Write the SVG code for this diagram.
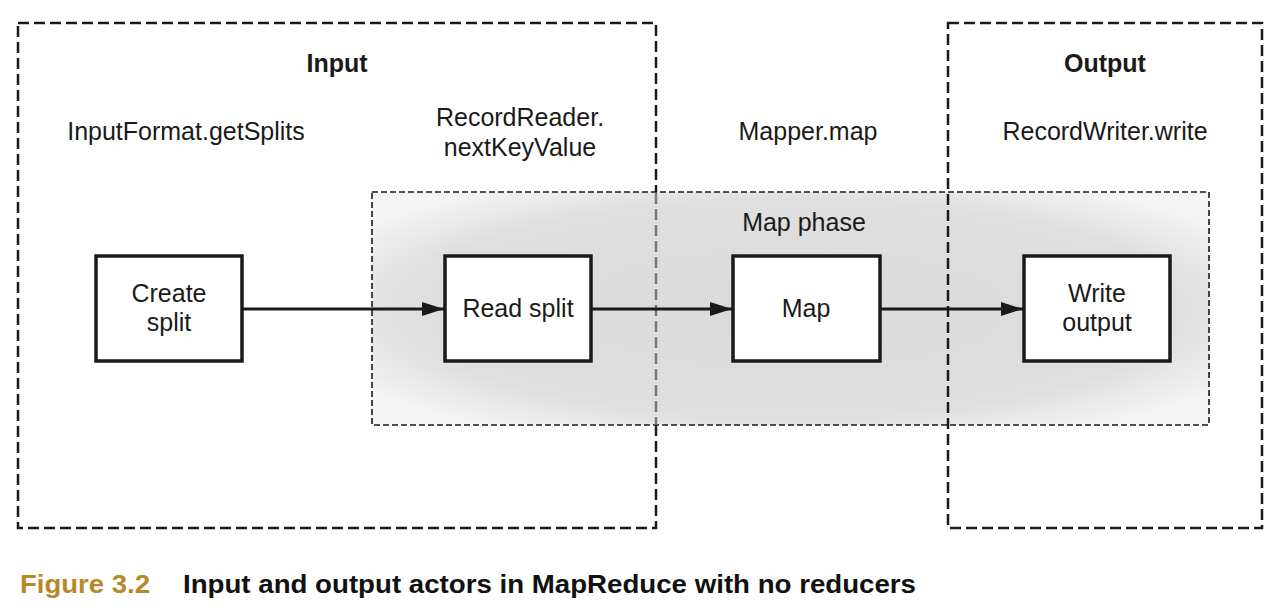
<svg xmlns="http://www.w3.org/2000/svg" width="1282" height="615" viewBox="0 0 1282 615">
<defs>
<radialGradient id="mg" cx="0.5" cy="0.5" r="0.62">
<stop offset="0" stop-color="#dadada"/>
<stop offset="0.75" stop-color="#dfdfdf"/>
<stop offset="1" stop-color="#f4f4f4"/>
</radialGradient>
<marker id="ah2" viewBox="0 0 22 14" refX="22" refY="7" markerWidth="22" markerHeight="14" markerUnits="userSpaceOnUse" orient="auto">
<path d="M0,0 L22,7 L0,14 Z" fill="#1a1a1a"/>
</marker>
</defs>
<style>
.grp{fill:none;stroke:#1a1a1a;stroke-width:2.5;stroke-dasharray:11,5}
.node{fill:#fff;stroke:#1a1a1a;stroke-width:3.5}
.t{font-family:"Liberation Sans",Arial,sans-serif;font-size:25px;fill:#1a1a1a;text-anchor:middle}
.b{font-weight:bold}
.c{fill:none;stroke:#1a1a1a;stroke-width:3}
.cap{font-family:"Liberation Sans",Arial,sans-serif;font-size:25px;font-weight:bold}
</style>
<rect width="1282" height="615" fill="#fff"/>
<g id="input-group">
<rect class="grp" x="18" y="23" width="638" height="505"/>
<text class="t b" x="337" y="72">Input</text>
<text class="t" x="186" y="140">InputFormat.getSplits</text>
<text class="t" x="520" y="126">RecordReader.</text>
<text class="t" x="520" y="156">nextKeyValue</text>
</g>
<g id="map-phase">
<rect x="372" y="192" width="837" height="233" fill="url(#mg)" stroke="#1a1a1a" stroke-width="1.6" stroke-dasharray="6,3"/>
<line x1="656" y1="193" x2="656" y2="424" stroke="#7a7a7a" stroke-width="2.5" stroke-dasharray="11,5"/>
<text class="t" x="804" y="231">Map phase</text>
</g>
<g id="output-group">
<rect class="grp" x="948" y="23" width="314" height="505"/>
<text class="t b" x="1105" y="72">Output</text>
<text class="t" x="1105" y="140">RecordWriter.write</text>
</g>
<text class="t" x="808" y="140">Mapper.map</text>
<g id="connectors">
<line class="c" x1="242" y1="309" x2="444" y2="309" stroke-width="3.5" marker-end="url(#ah2)"/>
<line class="c" x1="591" y1="309" x2="732" y2="309" marker-end="url(#ah2)"/>
<line class="c" x1="880" y1="309" x2="1023" y2="309" marker-end="url(#ah2)"/>
</g>
<g id="create-split">
<rect class="node" x="96" y="256" width="146" height="105"/>
<text class="t" x="169" y="302">Create</text>
<text class="t" x="169" y="331">split</text>
</g>
<g id="read-split">
<rect class="node" x="445" y="256" width="146" height="105"/>
<text class="t" x="518" y="317">Read split</text>
</g>
<g id="map">
<rect class="node" x="733" y="256" width="147" height="105"/>
<text class="t" x="806" y="317">Map</text>
</g>
<g id="write-output">
<rect class="node" x="1024" y="256" width="146" height="105"/>
<text class="t" x="1097" y="302">Write</text>
<text class="t" x="1097" y="331">output</text>
</g>
<g id="caption">
<text class="cap" x="20" y="593" fill="#b5892a" textLength="130" lengthAdjust="spacingAndGlyphs">Figure 3.2</text>
<text class="cap" x="183" y="593" fill="#111" textLength="733" lengthAdjust="spacingAndGlyphs">Input and output actors in MapReduce with no reducers</text>
</g>
</svg>
